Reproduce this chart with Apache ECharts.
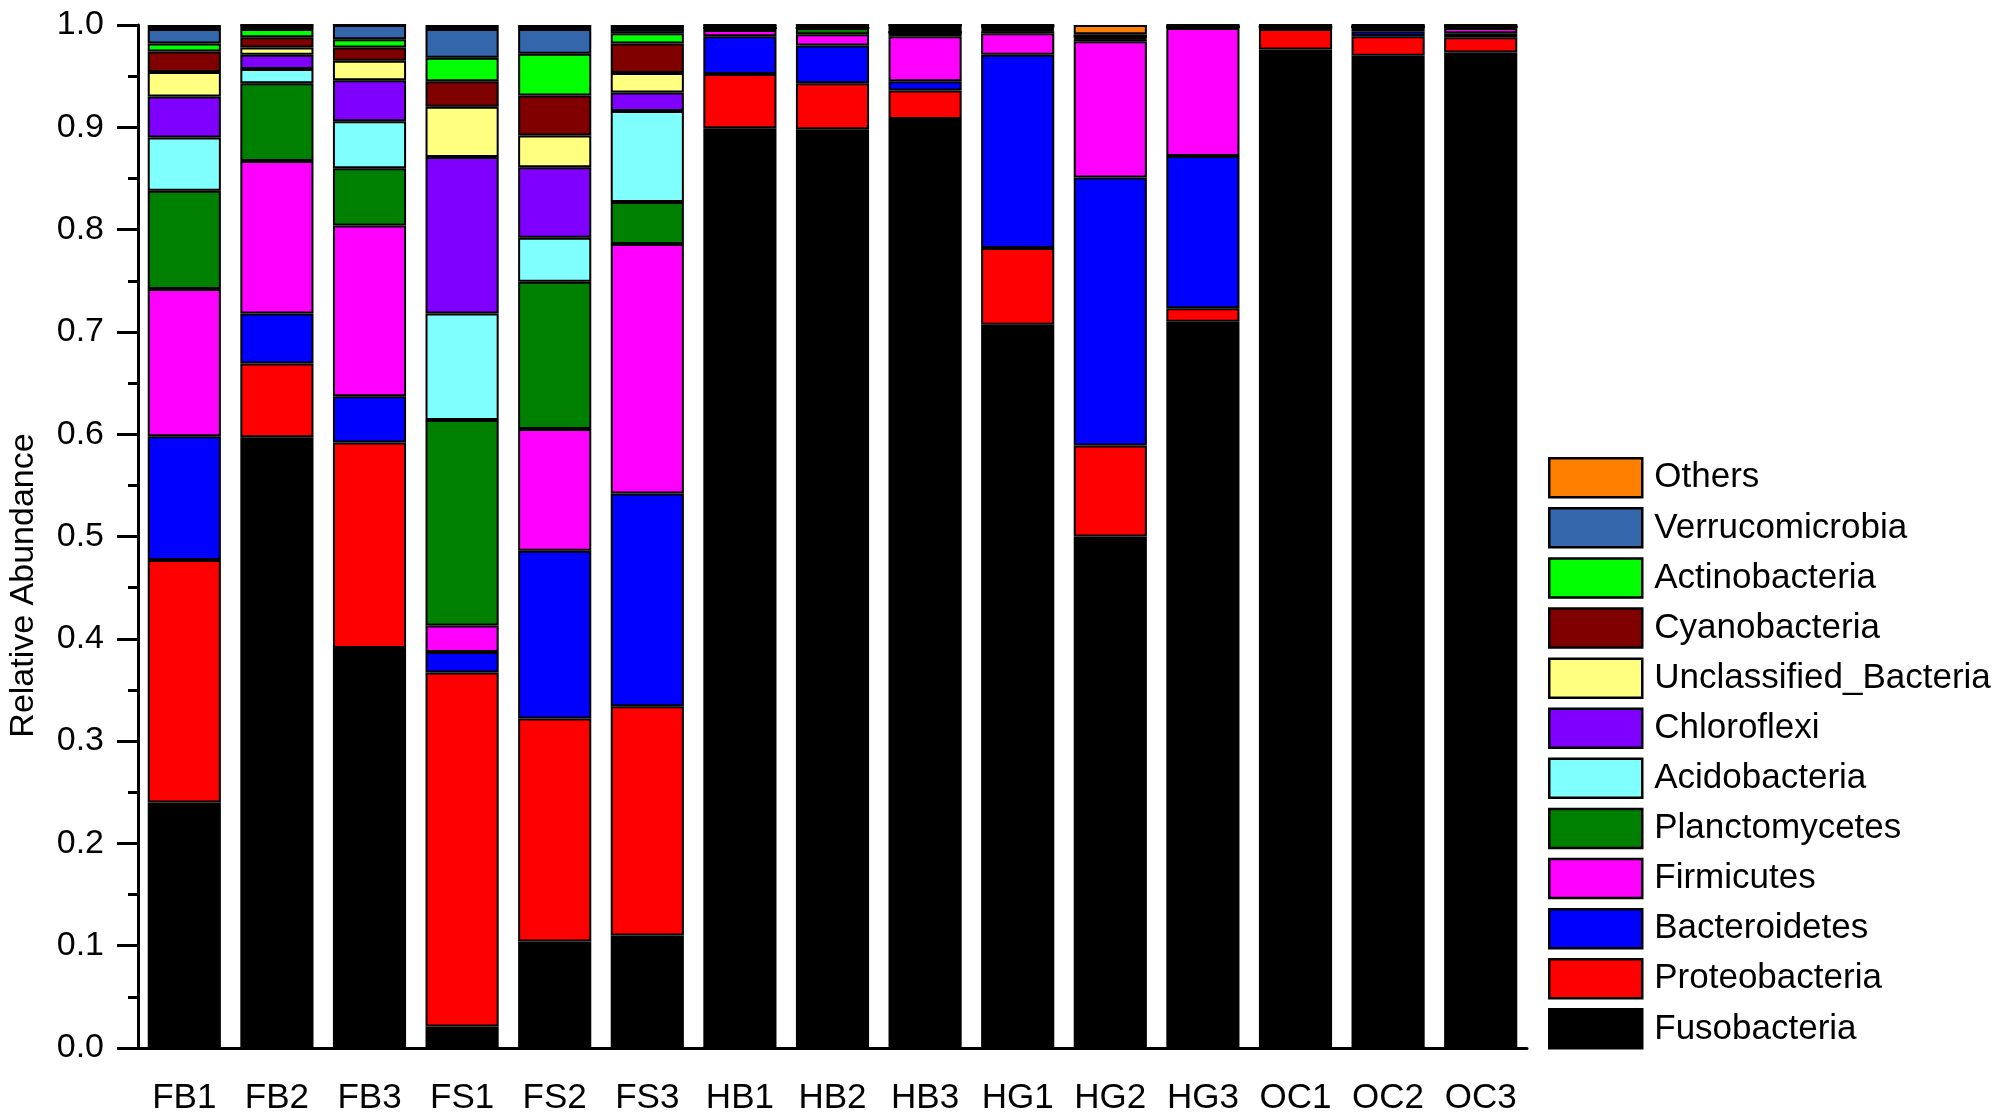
<!DOCTYPE html>
<html>
<head>
<meta charset="utf-8">
<title>Relative Abundance</title>
<script src="https://cdn.jsdelivr.net/npm/echarts@6/dist/echarts.min.js"></script>
<style>
  html, body { margin: 0; padding: 0; background: #fff; }
  #main { width: 2005px; height: 1119px; }
</style>
</head>
<body>
<div id="main"></div>
<script>
// 样本
const samples = ['FB1', 'FB2', 'FB3', 'FS1', 'FS2', 'FS3', 'HB1', 'HB2', 'HB3', 'HG1', 'HG2', 'HG3', 'OC1', 'OC2', 'OC3'];
const yTicks = [0, 0.1, 0.2, 0.3, 0.4, 0.5, 0.6, 0.7, 0.8, 0.9, 1.0];

// 各门的相对丰度 (从下往上堆叠)
const fusobacteria    = [0.240, 0.597, 0.391, 0.021, 0.104, 0.110, 0.899, 0.898, 0.908, 0.707, 0.500, 0.710, 0.976, 0.970, 0.973];
const proteobacteria  = [0.237, 0.072, 0.201, 0.346, 0.218, 0.224, 0.053, 0.045, 0.028, 0.075, 0.089, 0.013, 0.020, 0.019, 0.015];
const bacteroidetes   = [0.121, 0.049, 0.045, 0.020, 0.164, 0.208, 0.037, 0.037, 0.009, 0.189, 0.262, 0.149, 0.000, 0.005, 0.004];
const firmicutes      = [0.144, 0.149, 0.167, 0.026, 0.119, 0.244, 0.006, 0.011, 0.044, 0.021, 0.133, 0.125, 0.001, 0.003, 0.005];
const planctomycetes  = [0.096, 0.076, 0.056, 0.201, 0.144, 0.041, 0.002, 0.006, 0.004, 0.002, 0.002, 0.001, 0.001, 0.001, 0.001];
const acidobacteria   = [0.052, 0.014, 0.046, 0.104, 0.043, 0.089, 0.000, 0.000, 0.000, 0.001, 0.001, 0.000, 0.000, 0.000, 0.000];
const chloroflexi     = [0.040, 0.014, 0.040, 0.153, 0.069, 0.018, 0.000, 0.000, 0.000, 0.001, 0.001, 0.000, 0.000, 0.000, 0.000];
const unclassified    = [0.024, 0.007, 0.019, 0.049, 0.031, 0.019, 0.000, 0.000, 0.003, 0.001, 0.000, 0.000, 0.000, 0.000, 0.000];
const cyanobacteria   = [0.020, 0.010, 0.013, 0.025, 0.039, 0.029, 0.000, 0.000, 0.002, 0.001, 0.001, 0.000, 0.000, 0.000, 0.000];
const actinobacteria  = [0.008, 0.008, 0.008, 0.023, 0.041, 0.010, 0.000, 0.000, 0.002, 0.000, 0.000, 0.000, 0.000, 0.000, 0.000];
const verrucomicrobia = [0.014, 0.004, 0.014, 0.028, 0.024, 0.004, 0.003, 0.003, 0.000, 0.002, 0.002, 0.002, 0.002, 0.002, 0.002];
const others          = [0.004, 0.000, 0.000, 0.004, 0.004, 0.004, 0.000, 0.000, 0.000, 0.000, 0.009, 0.000, 0.000, 0.000, 0.000];

const phyla = [
    ['Fusobacteria', fusobacteria, '#000000'],
    ['Proteobacteria', proteobacteria, '#ff0000'],
    ['Bacteroidetes', bacteroidetes, '#0000ff'],
    ['Firmicutes', firmicutes, '#ff00ff'],
    ['Planctomycetes', planctomycetes, '#008000'],
    ['Acidobacteria', acidobacteria, '#80ffff'],
    ['Chloroflexi', chloroflexi, '#8000ff'],
    ['Unclassified_Bacteria', unclassified, '#ffff80'],
    ['Cyanobacteria', cyanobacteria, '#800000'],
    ['Actinobacteria', actinobacteria, '#00ff00'],
    ['Verrucomicrobia', verrucomicrobia, '#3366aa'],
    ['Others', others, '#ff8000']
];

const font = "'Liberation Sans', Arial, sans-serif";

let myChart = echarts.init(document.getElementById('main'));

let series = phyla.map(function (p) {
    return {
        name: p[0],
        type: 'bar',
        stack: 'total',
        barWidth: '79%',
        data: p[1],
        itemStyle: {color: p[2], borderColor: '#000', borderWidth: 2}
    };
});

myChart.setOption({
    animation: false,
    backgroundColor: '#fff',
    grid: {left: 138, right: 478, top: 25, bottom: 71, outerBoundsMode: 'none'},
    legend: {
        orient: 'vertical',
        left: 1548,
        top: 457,
        padding: 0,
        icon: 'rect',
        itemWidth: 93,
        itemHeight: 39,
        itemGap: 8.6,
        data: phyla.map(function (p) { return p[0]; }).reverse(),
        itemStyle: {borderColor: '#000', borderWidth: 2.5},
        textStyle: {fontFamily: font, fontSize: 35, color: '#000', lineHeight: 39, padding: [0, 0, 0, 7]}
    },
    xAxis: [
        {
            type: 'category',
            data: samples,
            axisLine: {lineStyle: {color: '#000', width: 3}},
            axisTick: {alignWithLabel: true, length: 22, lineStyle: {color: '#000', width: 3}},
            axisLabel: {interval: 0, fontFamily: font, fontSize: 35, color: '#000', margin: 33}
        },
        {
            // 分类边界的短刻度
            type: 'category',
            data: samples,
            position: 'bottom',
            axisLine: {show: false},
            axisTick: {alignWithLabel: false, interval: 0, length: 12, lineStyle: {color: '#000', width: 3}},
            axisLabel: {show: false}
        }
    ],
    yAxis: {
        type: 'value',
        min: yTicks[0],
        max: yTicks[yTicks.length - 1],
        interval: 0.1,
        name: 'Relative Abundance',
        nameLocation: 'middle',
        nameGap: 97,
        nameTextStyle: {fontFamily: font, fontSize: 34, color: '#000', padding: [0, 98, 0, 0]},
        axisLine: {show: true, lineStyle: {color: '#000', width: 3}},
        axisTick: {show: true, length: 21, lineStyle: {color: '#000', width: 3}},
        minorTick: {show: true, splitNumber: 2, length: 10, lineStyle: {color: '#000', width: 3}},
        splitLine: {show: false},
        axisLabel: {
            fontFamily: font, fontSize: 34, color: '#000', margin: 34,
            formatter: function (v) { return v.toFixed(1); }
        }
    },
    series: series
});
</script>
</body>
</html>
